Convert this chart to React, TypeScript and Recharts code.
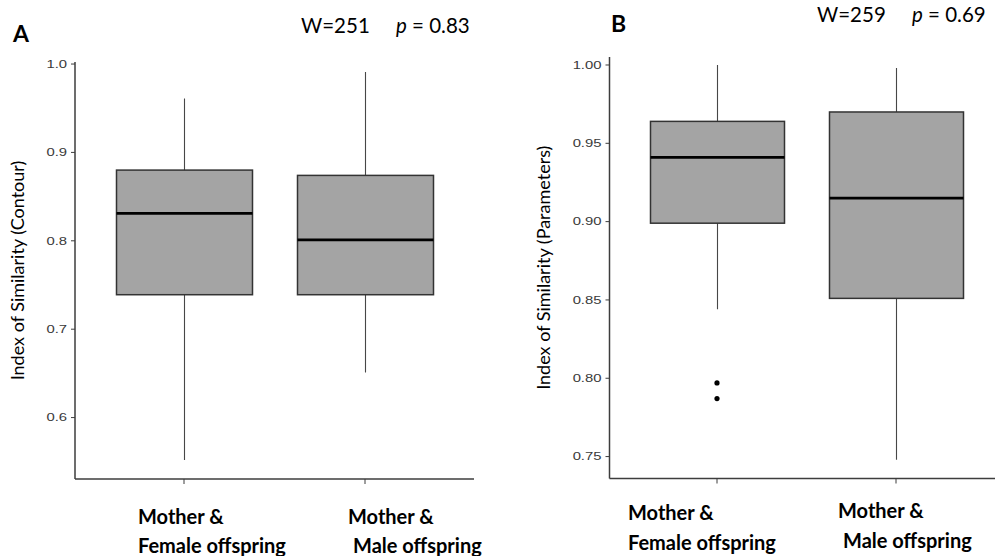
import { Bar, ComposedChart, Scatter, XAxis, YAxis } from "recharts";

// two pairings compared in both panels
const groups = ["female", "male"];
const groupLines = [
  ["Mother &", "Female offspring"],
  ["Mother &", "Male offspring"],
];

// panel A: contour similarity (box-plot five numbers)
const contourLow = [0.552, 0.651];
const contourQ1 = [0.739, 0.739];
const contourMedian = [0.831, 0.801];
const contourQ3 = [0.88, 0.874];
const contourHigh = [0.961, 0.991];
const contourOutliers: number[][] = [[], []];
const contourTicks = [0.6, 0.7, 0.8, 0.9, 1.0];

// panel B: parameter similarity
const paramLow = [0.844, 0.748];
const paramQ1 = [0.899, 0.851];
const paramMedian = [0.941, 0.915];
const paramQ3 = [0.964, 0.97];
const paramHigh = [1.0, 0.998];
const paramOutliers: number[][] = [[0.797, 0.787], []];
const paramTicks = [0.75, 0.8, 0.85, 0.9, 0.95, 1.0];

const FONT = "Lato, 'Open Sans', sans-serif";

function buildRows(
  low: number[],
  q1: number[],
  median: number[],
  q3: number[],
  high: number[],
  outliers: number[][],
) {
  return groups.map((g, i) => ({
    group: g,
    index: i,
    low: low[i],
    q1: q1[i],
    median: median[i],
    q3: q3[i],
    high: high[i],
    range: [low[i], high[i]],
    out1: outliers[i][0] ?? null,
    out2: outliers[i][1] ?? null,
  }));
}

const contourRows = buildRows(contourLow, contourQ1, contourMedian, contourQ3, contourHigh, contourOutliers);
const paramRows = buildRows(paramLow, paramQ1, paramMedian, paramQ3, paramHigh, paramOutliers);

// whisker + box + median, drawn inside the [low, high] band the Bar gets from the y scale
function BoxShape(props: any) {
  const { x, y, width, height, payload } = props;
  const top = Math.min(y, y + height);
  const span = Math.abs(height);
  const { low, q1, median, q3, high } = payload;
  const toY = (v: number) => top + (span * (high - v)) / (high - low);
  const cx = x + width / 2;
  return (
    <g>
      <line x1={cx} x2={cx} y1={toY(high)} y2={toY(low)} stroke="#474747" strokeWidth={1.1} />
      <rect
        x={x}
        y={toY(q3)}
        width={width}
        height={toY(q1) - toY(q3)}
        fill="#a4a4a4"
        stroke="#333"
        strokeWidth={1.5}
      />
      <line x1={x} x2={x + width} y1={toY(median)} y2={toY(median)} stroke="#000" strokeWidth={2.6} />
    </g>
  );
}

function outlierDot(key: "out1" | "out2") {
  return (props: any) => {
    if (props.payload[key] == null) return <g />;
    return <circle cx={props.cx} cy={props.cy} r={2.6} fill="#000" />;
  };
}

function yTick(decimals: number) {
  return (props: any) => {
    const { x, y, payload } = props;
    return (
      <g transform={`translate(${x},${y}) scale(1.35,1)`}>
        <text
          x={0}
          y={0}
          dy="0.35em"
          textAnchor="end"
          fontSize={11}
          fontFamily="'Liberation Sans', Arial, sans-serif"
          fill="#3a3a3a"
        >
          {Number(payload.value).toFixed(decimals)}
        </text>
      </g>
    );
  };
}

// category labels are two left-aligned lines, nudged per group
function xTick(offsets: { dx1: number; dx2: number; y1: number; y2: number }[]) {
  return (props: any) => {
    const { x, y, index } = props;
    const o = offsets[index];
    const lines = groupLines[index];
    return (
      <g>
        <text x={x + o.dx1} y={y + o.y1} fontSize={20} fontWeight={700} fontFamily={FONT} fill="#000">
          {lines[0]}
        </text>
        <text x={x + o.dx2} y={y + o.y2} fontSize={20} fontWeight={700} fontFamily={FONT} fill="#000">
          {lines[1]}
        </text>
      </g>
    );
  };
}

function yLabel(text: string, dx: number) {
  return (props: any) => {
    const vb = props.viewBox;
    const cx = vb.x + dx;
    const cy = vb.y + vb.height / 2;
    return (
      <text
        x={cx}
        y={cy}
        transform={`rotate(-90, ${cx}, ${cy})`}
        textAnchor="middle"
        dominantBaseline="central"
        fontSize={18}
        fontFamily={FONT}
        fill="#000"
      >
        {text}
      </text>
    );
  };
}

type PanelProps = {
  rows: ReturnType<typeof buildRows>;
  width: number;
  margin: { top: number; left: number; right: number; bottom: number };
  domain: [number, number];
  ticks: number[];
  decimals: number;
  padding: { left: number; right: number };
  barSize: number;
  label: string;
  labelDx: number;
  xOffsets: { dx1: number; dx2: number; y1: number; y2: number }[];
  xHeight: number;
};

function BoxPanel(p: PanelProps) {
  return (
    <ComposedChart width={p.width} height={556} data={p.rows} margin={p.margin}>
      <XAxis
        dataKey="group"
        type="category"
        padding={p.padding}
        height={p.xHeight}
        axisLine={{ stroke: "#3d3d3d", strokeWidth: 1.5 }}
        tickLine={{ stroke: "#3d3d3d", strokeWidth: 1 }}
        tickSize={5}
        tick={xTick(p.xOffsets)}
        interval={0}
      />
      <YAxis
        type="number"
        domain={p.domain}
        ticks={p.ticks}
        allowDataOverflow
        width={40}
        axisLine={{ stroke: "#3d3d3d", strokeWidth: 1.5 }}
        tickLine={{ stroke: "#3d3d3d", strokeWidth: 1 }}
        tickSize={4}
        tickMargin={4}
        tick={yTick(p.decimals)}
        label={{ content: yLabel(p.label, p.labelDx) }}
      />
      <Bar dataKey="range" barSize={p.barSize} shape={BoxShape} isAnimationActive={false} />
      <Scatter dataKey="out1" shape={outlierDot("out1")} isAnimationActive={false} />
      <Scatter dataKey="out2" shape={outlierDot("out2")} isAnimationActive={false} />
    </ComposedChart>
  );
}

export default function App() {
  return (
    <div style={{ position: "absolute", left: 0, top: 0, width: 995, height: 556, background: "#fff" }}>
      <div style={{ position: "absolute", left: 0, top: 0 }}>
        <BoxPanel
          rows={contourRows}
          width={500}
          margin={{ top: 62, left: 35, right: 26, bottom: 0 }}
          domain={[0.5305, 1.0023]}
          ticks={contourTicks}
          decimals={1}
          padding={{ left: 18.5, right: 18.5 }}
          barSize={136}
          label="Index of Similarity (Contour)"
          labelDx={-18}
          xHeight={77}
          xOffsets={[
            { dx1: -46, dx2: -46, y1: 38, y2: 67 },
            { dx1: -17, dx2: -12, y1: 38, y2: 67 },
          ]}
        />
      </div>
      <div style={{ position: "absolute", left: 500, top: 0 }}>
        <BoxPanel
          rows={paramRows}
          width={495}
          margin={{ top: 57, left: 69.5, right: 0, bottom: 0 }}
          domain={[0.736, 1.0051]}
          ticks={paramTicks}
          decimals={2}
          padding={{ left: 18, right: 9.5 }}
          barSize={134}
          label="Index of Similarity (Parameters)"
          labelDx={-26.5}
          xHeight={77.5}
          xOffsets={[
            { dx1: -89, dx2: -89, y1: 34, y2: 64 },
            { dx1: -58, dx2: -53, y1: 32, y2: 62 },
          ]}
        />
      </div>
      <svg
        width={995}
        height={556}
        style={{ position: "absolute", left: 0, top: 0, pointerEvents: "none" }}
      >
        <text x={13} y={42} fontSize={23} fontWeight={700} fontFamily={FONT} fill="#000">
          A
        </text>
        <text x={611} y={32} fontSize={23} fontWeight={700} fontFamily={FONT} fill="#000">
          B
        </text>
        <text x={301} y={33} fontSize={20.5} fontFamily={FONT} fill="#000">
          W=251
        </text>
        <text x={396} y={33} fontSize={20.5} fontFamily={FONT} fill="#000">
          <tspan fontStyle="italic">p</tspan> = 0.83
        </text>
        <text x={817} y={22} fontSize={20.5} fontFamily={FONT} fill="#000">
          W=259
        </text>
        <text x={912} y={22} fontSize={20.5} fontFamily={FONT} fill="#000">
          <tspan fontStyle="italic">p</tspan> = 0.69
        </text>
      </svg>
    </div>
  );
}
